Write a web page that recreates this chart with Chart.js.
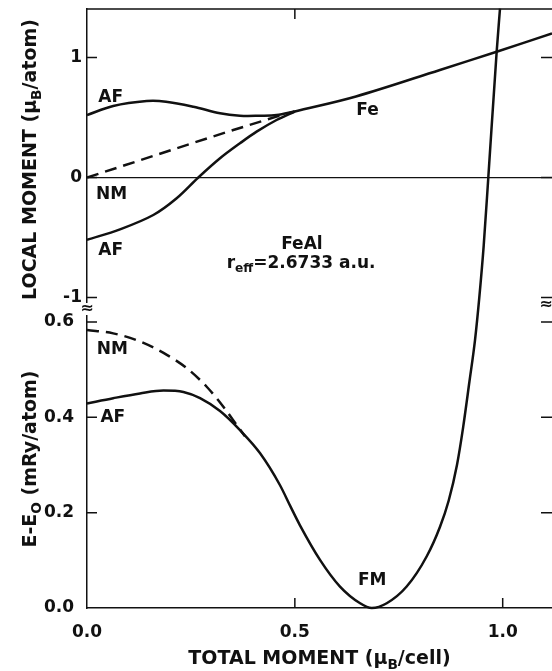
<!DOCTYPE html>
<html>
<head>
<meta charset="utf-8">
<script src="https://cdn.jsdelivr.net/npm/chart.js@4.4.1/dist/chart.umd.min.js"></script>
<style>
  html, body { margin: 0; padding: 0; background: #fff; overflow: hidden; }
  canvas { display: block; }
</style>
</head>
<body>
<canvas id="fig" width="552" height="671"></canvas>
<script>
// upper panel: local moment (mu_B/atom) against total moment (mu_B/cell)
const afHiX = [0, 0.063, 0.1435, 0.19, 0.256, 0.32, 0.368, 0.416, 0.456, 0.5];
const afHiM = [0.52, 0.596, 0.637, 0.632, 0.59, 0.535, 0.515, 0.515, 0.52, 0.55];
const afLoX = [0, 0.0794, 0.1595, 0.2157, 0.2678, 0.32, 0.368, 0.408, 0.456, 0.5];
const afLoM = [-0.52, -0.432, -0.3125, -0.173, 0.0, 0.16, 0.285, 0.382, 0.479, 0.55];
const nmTopX = [0, 0.456, 0.5];
const nmTopM = [0, 0.507, 0.55];
const feX = [0.5, 0.647, 0.849, 0.9855, 1.1186];
const feM = [0.55, 0.675, 0.896, 1.048, 1.2];

// lower panel: E - E0 (mRy/atom)
const nmEX = [0, 0.063, 0.1275, 0.192, 0.24, 0.288, 0.328, 0.36, 0.38];
const nmE = [0.583, 0.576, 0.559, 0.531, 0.503, 0.464, 0.422, 0.384, 0.36];
const eX = [0, 0.063, 0.1275, 0.184, 0.232, 0.272, 0.32, 0.368, 0.416, 0.464, 0.49, 0.512,
  0.5605, 0.6086, 0.657, 0.685, 0.721, 0.769, 0.817, 0.849, 0.87, 0.89, 0.905, 0.92,
  0.9334, 0.9438, 0.9543, 0.9654, 0.9855, 0.9935];
const eE = [0.429, 0.44, 0.45, 0.456, 0.453, 0.44, 0.413, 0.373, 0.325, 0.258, 0.212, 0.174,
  0.101, 0.045, 0.01, 0.0, 0.01, 0.045, 0.108, 0.17, 0.225, 0.3, 0.38, 0.475,
  0.562, 0.652, 0.76, 0.903, 1.167, 1.257];

// axis ranges
const xRange = [0, 1.1186];
const momRange = [-1.104, 1.404];
const eRange = [0, 0.625];

const FONT = 'DejaVu Sans';
const INK = '#111';

function pts(xs, ys) {
  return xs.map((x, i) => ({ x: x, y: ys[i] }));
}

function line(data, axis, dashed, smooth) {
  const ds = {
    data: data,
    yAxisID: axis,
    borderColor: INK,
    borderWidth: 2.5,
    borderDash: dashed ? [12, 7] : [],
    pointRadius: 0,
    fill: false
  };
  if (smooth) ds.tension = 0.35;
  else ds.cubicInterpolationMode = 'monotone';
  return ds;
}

// text with subscripts, centred on (cx, cy)
function drawRuns(ctx, runs, cx, cy, size, rotate) {
  ctx.save();
  ctx.translate(cx, cy);
  if (rotate) ctx.rotate(-Math.PI / 2);
  let total = 0;
  const parts = runs.map(r => {
    const s = r.sub ? size * 0.72 : size;
    ctx.font = 'bold ' + s + 'px "' + FONT + '"';
    const w = ctx.measureText(r.t).width;
    total += w;
    return { t: r.t, s: s, w: w, dy: r.sub ? size * 0.28 : 0 };
  });
  let x = -total / 2;
  ctx.fillStyle = INK;
  ctx.textAlign = 'left';
  ctx.textBaseline = 'alphabetic';
  const base = size * 0.729 / 2;
  parts.forEach(p => {
    ctx.font = 'bold ' + p.s + 'px "' + FONT + '"';
    ctx.fillText(p.t, x, base + p.dy);
    x += p.w;
  });
  ctx.restore();
}

const notes = [
  { axis: 'yM', x: 0.057, y: 0.679, runs: [{ t: 'AF' }] },
  { axis: 'yM', x: 0.059, y: -0.125, runs: [{ t: 'NM' }] },
  { axis: 'yM', x: 0.057, y: -0.59, runs: [{ t: 'AF' }] },
  { axis: 'yM', x: 0.675, y: 0.569, runs: [{ t: 'Fe' }] },
  { axis: 'yM', x: 0.517, y: -0.542, runs: [{ t: 'FeAl' }] },
  { axis: 'yM', x: 0.515, y: -0.70, runs: [{ t: 'r' }, { t: 'eff', sub: true }, { t: '=2.6733 a.u.' }] },
  { axis: 'yE', x: 0.061, y: 0.545, runs: [{ t: 'NM' }] },
  { axis: 'yE', x: 0.062, y: 0.403, runs: [{ t: 'AF' }] },
  { axis: 'yE', x: 0.686, y: 0.061, runs: [{ t: 'FM' }] }
];

const framePlugin = {
  id: 'frame',
  afterDraw(chart) {
    const { ctx, chartArea: a, scales } = chart;
    const sx = scales.x, yM = scales.yM, yE = scales.yE;
    const tl = 10;
    ctx.save();
    ctx.strokeStyle = INK;
    ctx.lineWidth = 1.5;
    ctx.beginPath();
    ctx.moveTo(a.left, a.top);
    ctx.lineTo(a.right, a.top);
    sx.ticks.forEach(t => {
      const px = sx.getPixelForValue(t.value);
      if (px <= a.left + 1) return;
      ctx.moveTo(px, a.bottom);
      ctx.lineTo(px, a.bottom - tl);
      if (t.value < 1) {
        ctx.moveTo(px, a.top);
        ctx.lineTo(px, a.top + tl);
      }
    });
    [yM, yE].forEach(s => s.ticks.forEach(t => {
      const py = s.getPixelForValue(t.value);
      if (py >= a.bottom - 1) return;
      ctx.moveTo(a.left, py);
      ctx.lineTo(a.left + tl, py);
      ctx.moveTo(a.right, py);
      ctx.lineTo(a.right - tl - 1, py);
    }));
    ctx.stroke();

    // axis break marks between the two panels
    const by = yM.bottom;
    ctx.fillStyle = '#fff';
    ctx.fillRect(a.left - 4, by - 7, 8, 12);
    ctx.fillStyle = INK;
    ctx.font = 'bold 16px "' + FONT + '"';
    ctx.textAlign = 'center';
    ctx.textBaseline = 'middle';
    ctx.fillText('\u2248', a.left, by - 1);
    ctx.fillText('\u2248', a.right - 6, by - 5);
    ctx.restore();

    notes.forEach(n => {
      const s = scales[n.axis];
      drawRuns(ctx, n.runs, sx.getPixelForValue(n.x), s.getPixelForValue(n.y), 17, false);
    });

    drawRuns(ctx, [{ t: 'TOTAL MOMENT (\u03bc' }, { t: 'B', sub: true }, { t: '/cell)' }],
      (a.left + a.right) / 2, 657, 19, false);
    drawRuns(ctx, [{ t: 'LOCAL MOMENT (\u03bc' }, { t: 'B', sub: true }, { t: '/atom)' }],
      29, (yM.top + yM.bottom) / 2, 19, true);
    drawRuns(ctx, [{ t: 'E-E' }, { t: 'O', sub: true }, { t: ' (mRy/atom)' }],
      29, (yE.top + yE.bottom) / 2, 19, true);
  }
};

function fixY(scale) {
  scale.width = 87;
  scale.paddingTop = 0;
  scale.paddingBottom = 0;
}

const tickFont = { family: FONT, size: 17, weight: 'bold' };

// the energy curve keeps rising through the upper panel, so it is not clipped to its own axis
const energyLine = line(pts(eX, eE), 'yE', false, false);
energyLine.clip = false;

new Chart(document.getElementById('fig'), {
  type: 'line',
  data: {
    datasets: [
      line(pts(afHiX, afHiM), 'yM', false, true),
      line(pts(afLoX, afLoM), 'yM', false, true),
      line(pts(nmTopX, nmTopM), 'yM', true, false),
      line(pts(feX, feM), 'yM', false, true),
      line(pts(nmEX, nmE), 'yE', true, false),
      energyLine
    ]
  },
  options: {
    responsive: false,
    animation: false,
    layout: { padding: { top: 9, right: 0, left: 0, bottom: 0 }, autoPadding: false },
    plugins: { legend: { display: false }, tooltip: { enabled: false } },
    scales: {
      x: {
        type: 'linear',
        min: xRange[0],
        max: xRange[1],
        border: { display: true, color: INK, width: 1.5 },
        grid: { display: false },
        ticks: {
          stepSize: 0.5,
          includeBounds: false,
          padding: 6,
          color: INK,
          font: tickFont,
          callback: v => v.toFixed(1)
        },
        afterFit(scale) {
          scale.height = 63;
          scale.paddingLeft = 0;
          scale.paddingRight = 0;
        }
      },
      yM: {
        type: 'linear',
        position: 'left',
        stack: 'panels',
        stackWeight: 301,
        weight: 1,
        min: momRange[0],
        max: momRange[1],
        border: { display: true, color: INK, width: 1.5 },
        grid: {
          drawTicks: false,
          lineWidth: 1.2,
          color: c => (c.tick && c.tick.value === 0 ? INK : 'rgba(0,0,0,0)')
        },
        ticks: {
          stepSize: 1,
          includeBounds: false,
          padding: 5,
          color: INK,
          font: tickFont,
          callback: v => String(v)
        },
        afterFit: fixY
      },
      yE: {
        type: 'linear',
        position: 'left',
        stack: 'panels',
        stackWeight: 298,
        weight: 0,
        min: eRange[0],
        max: eRange[1],
        border: { display: true, color: INK, width: 1.5 },
        grid: { display: false },
        ticks: {
          stepSize: 0.2,
          includeBounds: false,
          padding: 5,
          color: INK,
          font: tickFont,
          callback: v => v.toFixed(1)
        },
        afterFit: fixY
      }
    }
  },
  plugins: [framePlugin]
});
</script>
</body>
</html>
